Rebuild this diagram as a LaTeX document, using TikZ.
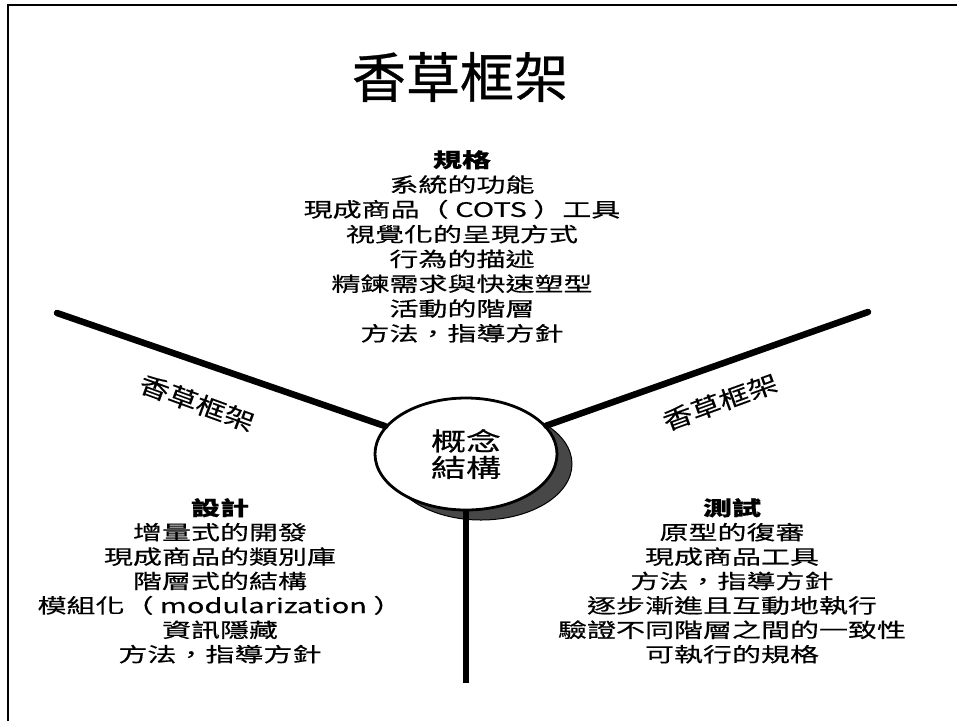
\documentclass[tikz,border=0pt]{standalone}
\usepackage{fontspec}
\usetikzlibrary{shapes.geometric}
\newfontfamily\cjk[FakeBold=0.6]{Noto Sans CJK TC}
\newfontfamily\cjkw[FakeStretch=1.45,FakeBold=0.4]{Noto Sans CJK TC}
\newfontfamily\cjkl[FakeStretch=1.25,FakeBold=0.3]{Noto Sans CJK TC}
\newfontfamily\cjkc[FakeStretch=1.4,FakeBold=0.5]{Noto Sans CJK TC}
\begin{document}
\begin{tikzpicture}[x=1pt,y=-1pt,
  spoke/.style={line width=6.5pt,line cap=round},
  block/.style={align=center,inner sep=0pt,font=\cjkw\fontsize{20}{24.8}\selectfont},
  lbl/.style={inner sep=0pt,font=\cjkl\fontsize{24}{28}\selectfont},
  framepen/.style={line width=2.5pt}]
\useasboundingbox (0,0) rectangle (957,721);
\draw[framepen] (8,721) -- (8,5) -- (957,5);
% title
\node[inner sep=0pt,font=\cjk\fontsize{54}{60}\selectfont] (title) at (460,77) {香草框架};
% top block
\node[block,anchor=north] (spec) at (462,150) {{\bfseries 規格}\\系統的功能\\現成商品（ COTS ）工具\\視覺化的呈現方式\\行為的描述\\精鍊需求與快速塑型\\活動的階層\\方法，指導方針};
% shadow and ellipse
\node[ellipse,draw,line width=1pt,fill=black!72,minimum width=182pt,minimum height=112pt] (shadow) at (481,464) {};
\node[ellipse,draw,line width=2.8pt,fill=white,minimum width=182pt,minimum height=112pt,align=center,font=\cjkc\fontsize{25}{26.5}\selectfont] (core) at (466,454) {概念\\結構};
% spokes
\coordinate (lEnd) at (57,313);
\coordinate (rEnd) at (868,312);
\coordinate (bEnd) at (466,683);
\draw[spoke] (lEnd) -- (core);
\draw[spoke] (rEnd) -- (core);
\draw[spoke,line cap=butt] (bEnd) -- (core);
% spoke labels
\node[lbl,rotate=-20] (lLab) at (197,403) {香草框架};
\node[lbl,rotate=20] (rLab) at (720,402) {香草框架};
% bottom blocks
\node[block,anchor=north,font=\cjkw\fontsize{20}{24.4}\selectfont] (design) at (220,498) {{\bfseries 設計}\\增量式的開發\\現成商品的類別庫\\階層式的結構\\模組化（ modularization ）\hspace*{26pt}\\資訊隱藏\\方法，指導方針};
\node[block,anchor=north,font=\cjkw\fontsize{20}{24.4}\selectfont] (test) at (732,498) {{\bfseries 測試}\\原型的復審\\現成商品工具\\方法，指導方針\\逐步漸進且互動地執行\\驗證不同階層之間的一致性\\可執行的規格};
\end{tikzpicture}
\end{document}
